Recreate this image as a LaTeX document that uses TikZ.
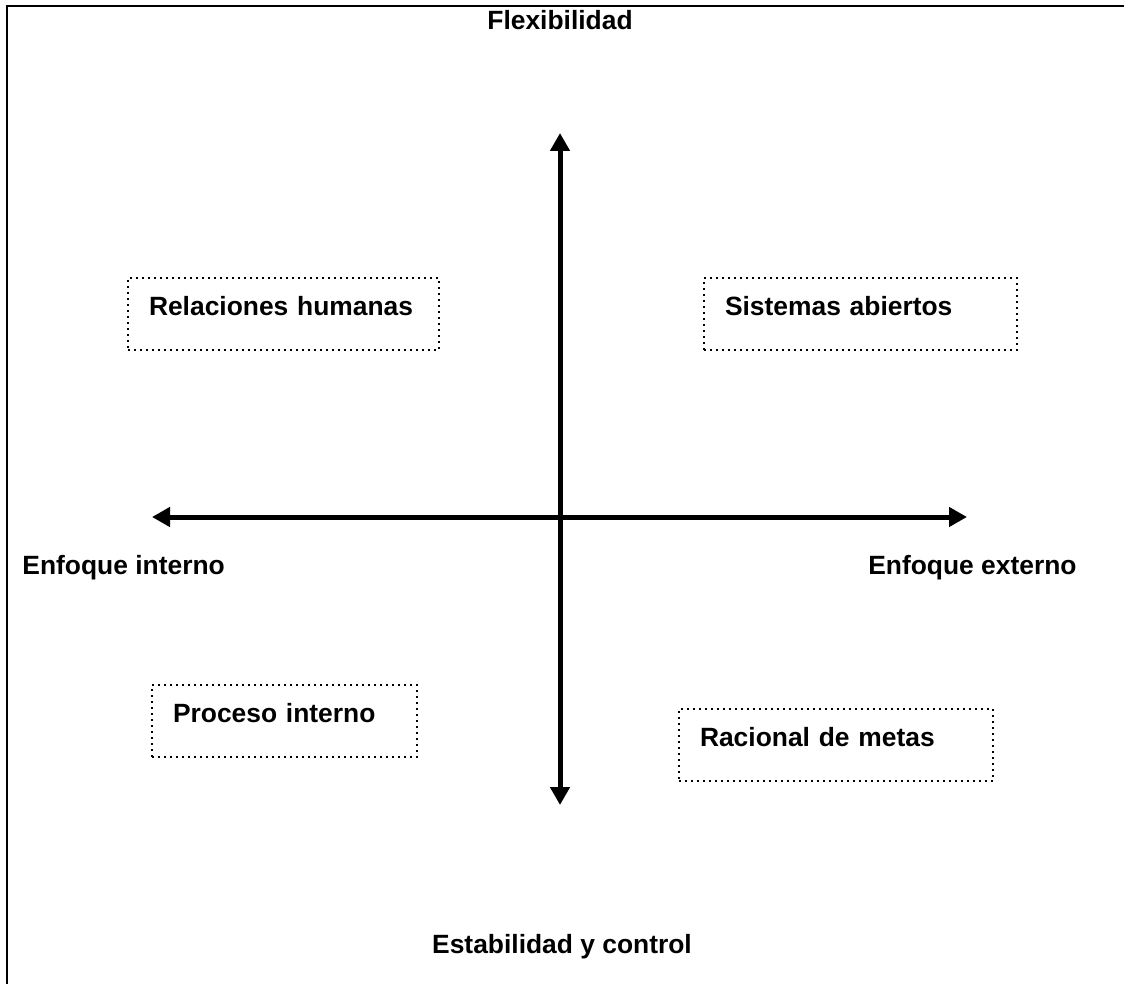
\documentclass[tikz,border=0pt]{standalone}
\usepackage{fontspec}
\setmainfont{Liberation Sans}
\usetikzlibrary{arrows.meta}
\tikzset{
  x=0.5pt, y=-0.5pt, % one unit is one pixel of the page
  axis/.style={line width=2.5pt, {Triangle[width=9.5pt, length=9pt]}-{Triangle[width=9.5pt, length=9pt]}},
  quad/.style={draw, dotted, line width=1pt, anchor=north west, align=left,
    inner xsep=10.5pt, inner ysep=4pt, text height=14.75pt, text depth=13.25pt,
    font=\fontsize{13.2}{15}\selectfont\bfseries},
  lbl/.style={font=\fontsize{13.2}{15}\selectfont\bfseries, inner sep=0pt},
}
\begin{document}
\begin{tikzpicture}
  \useasboundingbox (0,0) rectangle (1124,984);
  % frame, only the top and left sides show
  \draw[line width=1.25pt] (1124,6) -- (7,6) -- (7,984);

  % axes
  \coordinate (top) at (560,133);
  \coordinate (bot) at (560,805);
  \coordinate (lft) at (152,517);
  \coordinate (rgt) at (967,517);
  \draw[axis] (bot) -- (top);
  \draw[axis] (lft) -- (rgt);

  % axis labels
  \node[lbl] (flex) at (560,20) {Flexibilidad};
  \node[lbl] (estab) at (562,947) {Estabilidad y control};
  \node[lbl, anchor=west] (eint) at (22,568) {Enfoque interno};
  \node[lbl, anchor=east] (eext) at (1077,568) {Enfoque externo};

  % quadrants
  \node[quad, text width=134.5pt] (rel) at (127,277) {Relaciones humanas};
  \node[quad, text width=135.5pt] (sis) at (703,277) {Sistemas abiertos};
  \node[quad, text width=111.5pt] (pro) at (151,684) {Proceso interno};
  \node[quad, text width=136pt] (rac) at (678,708) {Racional de metas};
\end{tikzpicture}
\end{document}
